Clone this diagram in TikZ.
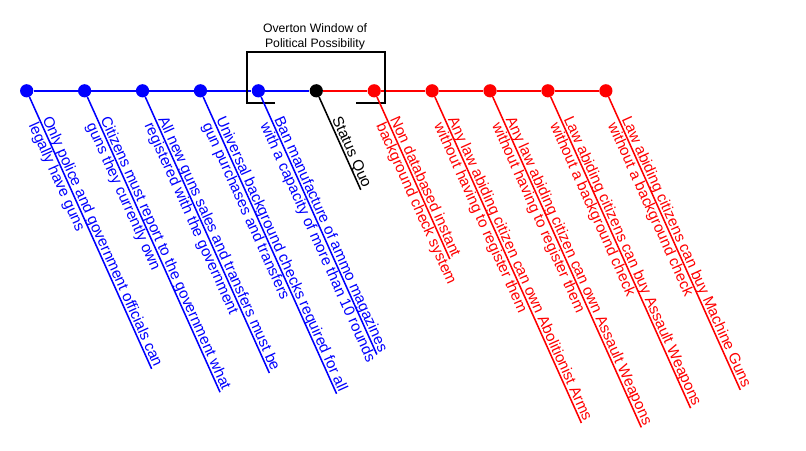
\documentclass[tikz,border=0pt]{standalone}
\usepackage{fontspec}
\setmainfont{Liberation Sans}
\usetikzlibrary{positioning, calc}
\newcommand{\lblfont}{\fontsize{10.8}{12.8}\selectfont}
\newcommand{\ttlfont}{\fontsize{8.7}{10.2}\selectfont}

\begin{document}
\begin{tikzpicture}
[dot/.style={circle, inner sep=0pt, minimum size=0.33cm},
 lbl/.style={rotate=-65.8, anchor=south west, inner xsep=0pt, inner ysep=0.06cm, text depth=0pt, font=\lblfont},
 sub/.style={rotate=-65.8, anchor=north west, inner xsep=0pt, inner ysep=0.045cm, text height=0.74em, font=\lblfont},
 lead/.style={line width=1.1pt},
 axis/.style={line width=1.4pt},
 every text node part/.style={align=center}]

\useasboundingbox (0,0) rectangle (20.15,11.25);

% dots on the scale
\foreach \i/\c in {0/blue,1/blue,2/blue,3/blue,4/blue,5/black,6/red,7/red,8/red,9/red,10/red}
  \node[dot, fill=\c] (d\i) at ({0.667+1.448*\i}, 8.98) {};

\draw[axis, blue] (d0) -- (d1) -- (d2) -- (d3) -- (d4) -- (d5);
\draw[axis, red] (d5) -- (d6) -- (d7) -- (d8) -- (d9) -- (d10);

% Overton window
\node[font=\ttlfont] (ttl) at (7.875, 10.33) {Overton Window of\\Political Possibility};
\draw[line width=1.4pt] (6.875, 8.67) -- (6.17, 8.67) -- (6.17, 9.96) -- (9.625, 9.96) -- (9.625, 8.67) -- (8.9, 8.67);

% labels
\foreach \i/\col/\top/\bot in {
  0/blue/Only police and government officials can/legally have guns,
  1/blue/Citizens must report to the government what/guns they currently own,
  2/blue/All new guns sales and transfers must be/registered with the government,
  3/blue/Universal background checks required for all/gun purchases and transfers,
  4/blue/Ban manufacture of ammo magazines/with a capacity of more than 10 rounds,
  6/red/Non databased instant/background check system,
  7/red/Any law abiding citizen can own Abolitionist Arms/without having to register them,
  8/red/Any law abiding citizen can own Assault Weapons/without having to register them,
  9/red/Law abiding citizens can buy Assault Weapons/without a background check,
  10/red/Law abiding citizens can buy Machine Guns/without a background check}
{
  \node[lbl, text=\col] (t\i) at ($(d\i)+(-65.8:0.8)$) {\top};
  \node[sub, text=\col] (b\i) at (t\i.south west) {\bot};
  \draw[lead, \col] (d\i) -- (t\i.south east);
}

\node[lbl] (t5) at ($(d5)+(-65.8:0.8)$) {Status Quo};
\draw[lead] (d5) -- (t5.south east);

\end{tikzpicture}
\end{document}
